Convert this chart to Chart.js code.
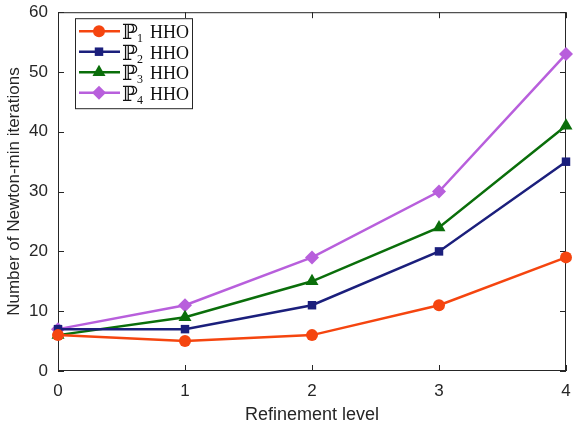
<!DOCTYPE html>
<html>
<head>
<meta charset="utf-8">
<script src="https://cdn.jsdelivr.net/npm/chart.js@4"></script>
<style>
  html, body { margin: 0; padding: 0; background: #fff; }
  #wrap { width: 576px; height: 430px; }
</style>
</head>
<body>
<div id="wrap"><canvas id="chart"></canvas></div>
<script>
const levels = [0, 1, 2, 3, 4];
const p1 = [6, 5, 6, 11, 19];
const p2 = [7, 7, 11, 20, 35];
const p3 = [6, 9, 15, 24, 41];
const p4 = [7, 11, 19, 30, 53];
const seriesNames = ["1", "2", "3", "4"];
const xTicks = [0, 1, 2, 3, 4];
const yTicks = [0, 10, 20, 30, 40, 50, 60];

function pts(vals) {
    return levels.map((x, i) => ({ x: x, y: vals[i] }));
}

const styles = [
    { color: "#f5450f", shape: "circle", r: 6 },
    { color: "#1b1f7c", shape: "rect", r: 6 },
    { color: "#0a6e0a", shape: "triangle", r: 7.5 },
    { color: "#b85fdc", shape: "rectRot", r: 7 }
];

const allVals = [p1, p2, p3, p4];
const datasets = allVals.map((v, i) => ({
    label: seriesNames[i],
    data: pts(v),
    borderColor: styles[i].color,
    backgroundColor: styles[i].color,
    borderWidth: 2.5,
    pointStyle: styles[i].shape,
    pointRadius: styles[i].r,
    pointBorderWidth: 0,
    clip: false,
    tension: 0
}));

// frame + inward ticks, matlab style
const framePlugin = {
    id: "frame",
    beforeDatasetsDraw(chart) {
        const { ctx, chartArea: a, scales } = chart;
        ctx.save();
        ctx.strokeStyle = "#262626";
        ctx.lineWidth = 1;
        ctx.strokeRect(a.left + 0.5, a.top + 0.5, a.right - a.left - 1, a.bottom - a.top - 1);
        const len = 6;
        ctx.beginPath();
        xTicks.forEach(t => {
            const px = Math.round(scales.x.getPixelForValue(t)) + 0.5;
            ctx.moveTo(px, a.bottom); ctx.lineTo(px, a.bottom - len);
            ctx.moveTo(px, a.top); ctx.lineTo(px, a.top + len);
        });
        yTicks.forEach(t => {
            const py = Math.round(scales.y.getPixelForValue(t)) + 0.5;
            ctx.moveTo(a.left, py); ctx.lineTo(a.left + len, py);
            ctx.moveTo(a.right, py); ctx.lineTo(a.right - len, py);
        });
        ctx.stroke();
        ctx.restore();
    }
};

// legend drawn in the top-left corner of the plot
const legendPlugin = {
    id: "boxLegend",
    afterDraw(chart) {
        const { ctx, chartArea: a } = chart;
        const bx = a.left + 17, by = a.top + 6, bw = 117, bh = 90;
        ctx.save();
        ctx.fillStyle = "#fff";
        ctx.fillRect(bx, by, bw, bh);
        ctx.strokeStyle = "#262626";
        ctx.lineWidth = 1;
        ctx.strokeRect(bx + 0.5, by + 0.5, bw, bh);
        chart.data.datasets.forEach((ds, i) => {
            const cy = by + 13 + i * 20.5;
            ctx.strokeStyle = ds.borderColor;
            ctx.lineWidth = 2.5;
            ctx.beginPath();
            ctx.moveTo(bx + 4, cy); ctx.lineTo(bx + 45, cy);
            ctx.stroke();
            ctx.fillStyle = ds.backgroundColor;
            Chart.helpers.drawPoint(ctx, { pointStyle: ds.pointStyle, radius: ds.pointRadius, borderWidth: 0 }, bx + 24, cy);
            ctx.fillStyle = "#111";
            ctx.textBaseline = "alphabetic";
            ctx.font = "21px 'DejaVu Serif'";
            ctx.fillText("\u2119", bx + 47, cy + 8);
            ctx.font = "12px 'Liberation Serif'";
            ctx.fillText(ds.label, bx + 62, cy + 11);
            ctx.font = "18px 'Liberation Serif'";
            ctx.fillText("HHO", bx + 75, cy + 7);
        });
        ctx.restore();
    }
};

new Chart("chart", {
    type: "line",
    data: { datasets: datasets },
    plugins: [framePlugin, legendPlugin],
    options: {
        responsive: true,
        maintainAspectRatio: false,
        animation: false,
        layout: { padding: { left: 0, right: 10, top: 12, bottom: 0 } },
        plugins: { legend: { display: false }, tooltip: { enabled: false } },
        scales: {
            x: {
                type: "linear",
                min: 0, max: 4,
                afterBuildTicks(s) { s.ticks = xTicks.map(v => ({ value: v })); },
                afterFit(s) { s.height = 59; },
                grid: { display: false },
                border: { display: false },
                ticks: { color: "#262626", font: { family: "Liberation Sans", size: 17 }, padding: 2 },
                title: { display: true, text: "Refinement level", color: "#262626",
                         font: { family: "Liberation Sans", size: 18 }, padding: { top: 2 } }
            },
            y: {
                min: 0, max: 60,
                afterBuildTicks(s) { s.ticks = yTicks.map(v => ({ value: v })); },
                afterFit(s) { s.width = 58; },
                grid: { display: false },
                border: { display: false },
                ticks: { color: "#262626", font: { family: "Liberation Sans", size: 17 }, padding: 2 },
                title: { display: true, text: "Number of Newton-min iterations", color: "#262626",
                         font: { family: "Liberation Sans", size: 17 }, padding: { bottom: 0 } }
            }
        }
    }
});
</script>
</body>
</html>
